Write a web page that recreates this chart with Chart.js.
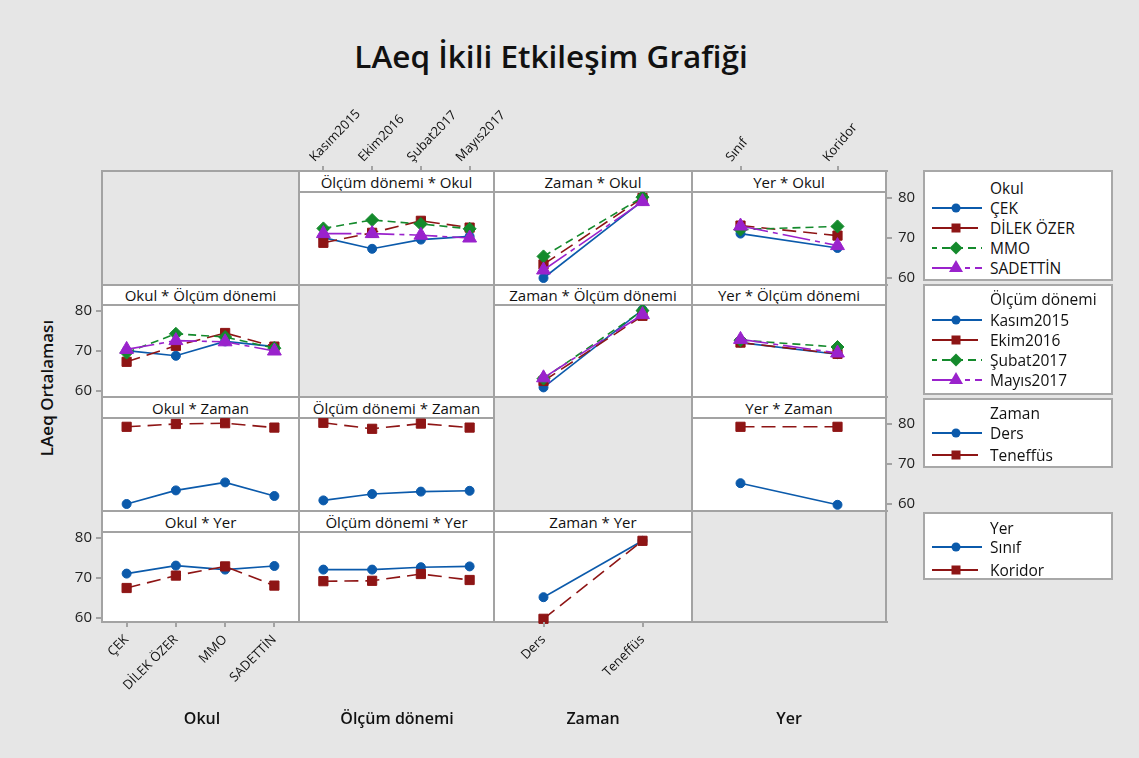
<!DOCTYPE html>
<html><head><meta charset="utf-8">
<script src="https://cdn.jsdelivr.net/npm/chart.js@4.4.1/dist/chart.umd.min.js"></script>
<style>
html,body{margin:0;padding:0;}
body{width:1139px;height:758px;background:#e6e6e6;position:relative;overflow:hidden;font-family:"Open Sans","Noto Sans",sans-serif;color:#111;}
.cell{position:absolute;background:#fff;}
.ln{position:absolute;background:#a3a3a3;}
.strip{position:absolute;display:flex;align-items:center;justify-content:center;font-size:15px;white-space:nowrap;}
canvas{position:absolute;}
.leg{position:absolute;background:#fff;border:2px solid #a8a8a8;box-sizing:border-box;}
.lt{position:absolute;font-size:15.5px;line-height:20px;white-space:nowrap;transform:translateY(-50%);}
.lab{position:absolute;font-weight:600;font-size:16px;white-space:nowrap;transform:translate(-50%,-50%);}
</style></head><body>
<div class="lab" style="left:551px;top:55px;font-size:31.5px;">LAeq İkili Etkileşim Grafiği</div>
<div class="lab" style="left:46px;top:388px;font-size:17px;transform:translate(-50%,-50%) rotate(-90deg);">LAeq Ortalaması</div>
<script>
// ---------------- DATA ----------------
const okulLabels = ['ÇEK', 'DİLEK ÖZER', 'MMO', 'SADETTİN'];
const donemLabels = ['Kasım2015', 'Ekim2016', 'Şubat2017', 'Mayıs2017'];
const zamanLabels = ['Ders', 'Teneffüs'];
const yerLabels = ['Sınıf', 'Koridor'];
const yTicks = [60, 70, 80];
// mean LAeq, rows = first factor, columns = second factor
const okulDonem = [            // [Okul][Ölçüm dönemi]
  [70.1, 67.3, 69.6, 70.4],
  [68.8, 71.3, 74.3, 72.6],
  [72.4, 74.5, 73.5, 72.3],
  [71.1, 71.1, 70.7, 70.0]
];
const okulZaman = [            // [Okul][Zaman]
  [60.0, 79.3],
  [63.4, 80.0],
  [65.4, 80.2],
  [62.0, 79.1]
];
const okulYer = [              // [Okul][Yer]
  [71.1, 67.5],
  [73.1, 70.6],
  [72.1, 72.9],
  [73.0, 68.1]
];
const donemZaman = [           // [Ölçüm dönemi][Zaman]
  [60.9, 80.3],
  [62.5, 78.8],
  [63.1, 80.1],
  [63.3, 79.1]
];
const donemYer = [             // [Ölçüm dönemi][Yer]
  [72.1, 69.2],
  [72.1, 69.3],
  [72.7, 71.0],
  [72.9, 69.5]
];
const zamanYer = [             // [Zaman][Yer]
  [65.2, 59.8],
  [79.3, 79.3]
];

// ---------------- STYLE ----------------
const COLORS = ['#0b5aab', '#8e1515', '#148a2c', '#9a22cc'];
const DASHES = [[], [14, 7], [8, 5], [28, 5, 5, 5]];
const PSTYLE = ['circle', 'rect', 'rectRot', 'triangle'];
const PRAD = [4.5, 6.5, 6.5, 8];
const YMIN = 58.25, YMAX = 81.5;
const GRID = '#a3a3a3';
Chart.defaults.font.family = '"Open Sans","Noto Sans",sans-serif';
Chart.defaults.color = '#111';

const colL = [102, 299, 494, 692], colR = [299, 494, 692, 886];
const rowT = [171, 285, 397, 511], rowB = [285, 397, 511, 622];
const stripB = [192, 305, 418, 532];
const y80 = [198, 311, 424, 538];

const T = m => m[0].map((_, j) => m.map(r => r[j]));
const panels = [
  {r:0, c:1, title:'Ölçüm dönemi * Okul', x:donemLabels, s:okulDonem},
  {r:0, c:2, title:'Zaman * Okul', x:zamanLabels, s:okulZaman},
  {r:0, c:3, title:'Yer * Okul', x:yerLabels, s:okulYer},
  {r:1, c:0, title:'Okul * Ölçüm dönemi', x:okulLabels, s:T(okulDonem)},
  {r:1, c:2, title:'Zaman * Ölçüm dönemi', x:zamanLabels, s:donemZaman},
  {r:1, c:3, title:'Yer * Ölçüm dönemi', x:yerLabels, s:donemYer},
  {r:2, c:0, title:'Okul * Zaman', x:okulLabels, s:T(okulZaman)},
  {r:2, c:1, title:'Ölçüm dönemi * Zaman', x:donemLabels, s:T(donemZaman)},
  {r:2, c:3, title:'Yer * Zaman', x:yerLabels, s:zamanYer},
  {r:3, c:0, title:'Okul * Yer', x:okulLabels, s:T(okulYer)},
  {r:3, c:1, title:'Ölçüm dönemi * Yer', x:donemLabels, s:T(donemYer)},
  {r:3, c:2, title:'Zaman * Yer', x:zamanLabels, s:T(zamanYer)}
];

function div(cls, l, t, w, h, text) {
  const d = document.createElement('div');
  d.className = cls;
  d.style.left = l + 'px'; d.style.top = t + 'px';
  if (w !== undefined) d.style.width = w + 'px';
  if (h !== undefined) d.style.height = h + 'px';
  if (text !== undefined) d.textContent = text;
  document.body.appendChild(d);
  return d;
}
function mkCanvas(l, t, w, h) {
  const c = document.createElement('canvas');
  c.width = w; c.height = h;
  Object.assign(c.style, {left:l+'px', top:t+'px', width:w+'px', height:h+'px'});
  document.body.appendChild(c);
  return c;
}

// cells & strips
panels.forEach(p => {
  div('cell', colL[p.c], rowT[p.r], colR[p.c]-colL[p.c], rowB[p.r]-rowT[p.r]);
  div('strip', colL[p.c], rowT[p.r], colR[p.c]-colL[p.c], stripB[p.r]-rowT[p.r], p.title);
  div('ln', colL[p.c], stripB[p.r]-1, colR[p.c]-colL[p.c], 2);
});
// grid lines
colL.concat([886]).forEach(x => div('ln', x-1, 170, 2, 453));
rowT.concat([622]).forEach(y => div('ln', 101, y-1, 787, 2));

// panel charts
const pxPerUnit = 4;
panels.forEach(p => {
  const top = Math.round(y80[p.r] - (YMAX - 80) * pxPerUnit);
  const h = Math.round((YMAX - YMIN) * pxPerUnit);
  const cv = mkCanvas(colL[p.c], top, colR[p.c]-colL[p.c], h);
  new Chart(cv, {
    type: 'line',
    data: {
      labels: p.x,
      datasets: p.s.map((vals, i) => ({
        data: vals,
        borderColor: COLORS[i], backgroundColor: COLORS[i],
        pointBackgroundColor: COLORS[i], pointBorderColor: COLORS[i],
        borderWidth: 1.6, borderDash: DASHES[i],
        pointStyle: PSTYLE[i], pointRadius: PRAD[i], pointBorderWidth: 1,
        tension: 0, fill: false, clip: false, order: -i
      }))
    },
    options: {
      responsive: false, animation: false, events: [],
      layout: {padding: 0, autoPadding: false},
      plugins: {legend: {display: false}, tooltip: {enabled: false}},
      scales: {
        x: {type: 'category', offset: true, display: false},
        y: {min: YMIN, max: YMAX, display: false}
      }
    }
  });
});

// x axis-only charts
function xAxisChart(c, labels, position, rotation) {
  const left = colL[c] - 80, width = colR[c] - colL[c] + 160;
  const top = position === 'top' ? 70 : 612;
  const height = position === 'top' ? 105 : 100;
  const axisH = position === 'top' ? 171 - top : 90;
  const cv = mkCanvas(left, top, width, height);
  new Chart(cv, {
    type: 'line',
    data: {labels: labels, datasets: []},
    options: {
      responsive: false, animation: false, events: [],
      layout: {padding: {left: 80, right: 80, top: 0, bottom: 0}, autoPadding: false},
      plugins: {legend: {display: false}, tooltip: {enabled: false}},
      scales: {
        x: {type: 'category', position: position, offset: true,
            border: {display: false},
            grid: {drawOnChartArea: false, tickLength: 5, color: GRID, lineWidth: 2},
            ticks: {autoSkip: false, minRotation: rotation, maxRotation: rotation,
                    padding: position === 'top' ? 1 : 5,
                    color: '#111', font: {size: 13}},
            afterFit: s => { s.height = axisH; }},
        y: {display: false}
      }
    }
  });
}
xAxisChart(1, donemLabels, 'top', 46);
xAxisChart(3, yerLabels, 'top', 50);
xAxisChart(0, okulLabels, 'bottom', 45);
xAxisChart(2, zamanLabels, 'bottom', 45);

// y axis-only charts
function yAxisChart(r, side) {
  const pad = 15, axisW = 45, inner = 10;
  const top = Math.round(y80[r] - (YMAX - 80) * pxPerUnit) - pad;
  const h = Math.round((YMAX - YMIN) * pxPerUnit) + 2 * pad;
  const left = side === 'right' ? 886 - inner : 102 - axisW;
  const cv = mkCanvas(left, top, axisW + inner, h);
  new Chart(cv, {
    type: 'line',
    data: {labels: [], datasets: []},
    options: {
      responsive: false, animation: false, events: [],
      layout: {padding: {left: 0, right: 0, top: pad, bottom: pad}, autoPadding: false},
      plugins: {legend: {display: false}, tooltip: {enabled: false}},
      scales: {
        x: {display: false},
        y: {position: side, min: YMIN, max: YMAX,
            border: {display: false},
            grid: {drawOnChartArea: false, tickLength: 6, color: GRID, lineWidth: 2},
            ticks: {padding: side === 'right' ? 6 : 4, color: '#222', font: {size: 15}},
            afterBuildTicks: s => { s.ticks = yTicks.map(v => ({value: v})); },
            afterFit: s => { s.width = axisW; }}
      }
    }
  });
}
yAxisChart(0, 'right');
yAxisChart(1, 'left');
yAxisChart(2, 'right');
yAxisChart(3, 'left');

// bottom factor labels
[['Okul', 202], ['Ölçüm dönemi', 397], ['Zaman', 593], ['Yer', 789]].forEach(([t, x]) => {
  div('lab', x, 718, undefined, undefined, t);
});

// legends
function markerSVG(i) {
  const c = COLORS[i];
  let m;
  if (i === 0) m = `<circle cx="25" cy="10" r="4.5" fill="${c}"/>`;
  else if (i === 1) m = `<rect x="20.5" y="5.5" width="9" height="9" fill="${c}"/>`;
  else if (i === 2) m = `<polygon points="25,3.5 31.5,10 25,16.5 18.5,10" fill="${c}"/>`;
  else m = `<polygon points="25,2 32,14 18,14" fill="${c}"/>`;
  const dash = DASHES[i].length ? `stroke-dasharray="${i===1?'20,6':DASHES[i].join(',')}"` : '';
  const off = i === 2 ? 'stroke-dashoffset="3"' : '';
  return `<svg width="52" height="20" style="position:absolute;left:0;top:0"><line x1="1" y1="10" x2="51" y2="10" stroke="${c}" stroke-width="1.8" ${dash} ${off}/>${m}</svg>`;
}
function legend(top, height, title, labels, titleY, firstY, step) {
  div('leg', 923, top, 190, height);
  div('lt', 990, titleY, undefined, undefined, title);
  labels.forEach((lab, i) => {
    const y = firstY + i * step;
    const s = div('', 931, y - 10, 52, 20);
    s.style.position = 'absolute';
    s.innerHTML = markerSVG(i);
    div('lt', 990, y, undefined, undefined, lab);
  });
}
legend(170, 111, 'Okul', okulLabels, 188, 207.5, 20.3);
legend(284, 111, 'Ölçüm dönemi', donemLabels, 299, 320, 20);
legend(398, 70, 'Zaman', zamanLabels, 413, 433, 22);
legend(512, 68, 'Yer', yerLabels, 528, 547, 22.5);
</script>
</body></html>
